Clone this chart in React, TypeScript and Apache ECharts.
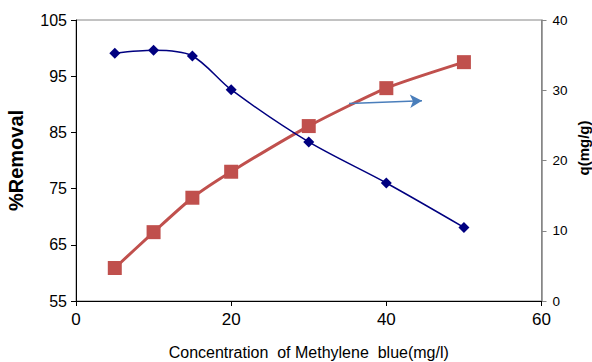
import React, { useEffect, useRef } from "react";
import * as echarts from "echarts";

const concentrations = [5, 10, 15, 20, 30, 40, 50];
const removalPercent = [99.1, 99.6, 98.6, 92.6, 83.3, 76.0, 68.1];
const qValues = [4.7, 9.8, 14.7, 18.4, 24.9, 30.3, 34.0];
const arrowStart = [35.2, 28.1];
const arrowEnd = [44.6, 28.5];

const FONT = "'Liberation Sans', Arial, sans-serif";

export default function App() {
  const ref = useRef<HTMLDivElement>(null);
  useEffect(() => {
    if (!ref.current) return;
    const chart = echarts.init(ref.current, undefined, { renderer: "svg" });
    chart.setOption({
      animation: false,
      backgroundColor: "#ffffff",
      textStyle: { fontFamily: FONT },
      grid: {
        left: 76,
        top: 20,
        right: 50.5,
        bottom: 61,
        show: true,
        borderColor: "#868686",
        borderWidth: 1,
        containLabel: false,
        outerBoundsMode: "none",
      },
      graphic: [
        {
          type: "text",
          x: 583,
          y: 148,
          rotation: Math.PI / 2,
          style: {
            text: "q(mg/g)",
            font: "bold 15px 'Liberation Sans', Arial, sans-serif",
            fill: "#000",
            align: "center",
            verticalAlign: "middle",
          },
        },
      ],
      xAxis: {
        type: "value",
        min: 0,
        max: 60,
        interval: 20,
        name: "Concentration  of Methylene  blue(mg/l)",
        nameLocation: "middle",
        nameGap: 43,
        nameTextStyle: { fontSize: 16, color: "#000", fontFamily: FONT },
        axisLine: { show: true, lineStyle: { color: "#000", width: 1 } },
        axisTick: { show: true, length: 5, lineStyle: { color: "#000" } },
        axisLabel: { fontSize: 17, color: "#000", margin: 10, fontFamily: FONT },
        splitLine: { show: false },
      },
      yAxis: [
        {
          type: "value",
          position: "left",
          min: 55,
          max: 105,
          interval: 10,
          name: "%Removal",
          nameLocation: "middle",
          nameRotate: 90,
          nameGap: 50,
          nameTextStyle: { fontSize: 20, fontWeight: "bold", color: "#000", fontFamily: FONT },
          axisLine: { show: true, lineStyle: { color: "#000", width: 1 } },
          axisTick: { show: true, length: 5, lineStyle: { color: "#000" } },
          axisLabel: { fontSize: 16, color: "#000", margin: 9, fontFamily: FONT },
          splitLine: { show: false },
        },
        {
          type: "value",
          position: "right",
          min: 0,
          max: 40,
          interval: 10,
          axisLine: { show: true, lineStyle: { color: "#868686", width: 1.5 } },
          axisTick: { show: true, length: 5, lineStyle: { color: "#868686" } },
          axisLabel: { fontSize: 13.5, color: "#000", margin: 11, fontFamily: FONT },
          splitLine: { show: false },
        },
      ],
      series: [
        {
          name: "%Removal",
          type: "line",
          yAxisIndex: 0,
          data: concentrations.map((c, i) => [c, removalPercent[i]]),
          smooth: 0.3,
          symbol: "diamond",
          symbolSize: 11,
          lineStyle: { color: "#000080", width: 1.5 },
          itemStyle: { color: "#000080" },
          z: 3,
        },
        {
          name: "q",
          type: "line",
          yAxisIndex: 1,
          data: concentrations.map((c, i) => [c, qValues[i]]),
          smooth: 0.2,
          symbol: "rect",
          symbolSize: 14,
          lineStyle: { color: "#c0504d", width: 3 },
          itemStyle: { color: "#c0504d" },
          z: 2,
          markLine: {
            silent: true,
            symbol: ["none", "arrow"],
            symbolSize: [10, 12],
            label: { show: false },
            lineStyle: { color: "#4a7ebb", width: 1.5, type: "solid" },
            data: [[{ coord: arrowStart }, { coord: arrowEnd }]],
          },
        },
      ],
    });
    return () => chart.dispose();
  }, []);
  return (
    <div
      ref={ref}
      style={{ position: "absolute", left: 0, top: 0, width: 592, height: 362 }}
    />
  );
}
